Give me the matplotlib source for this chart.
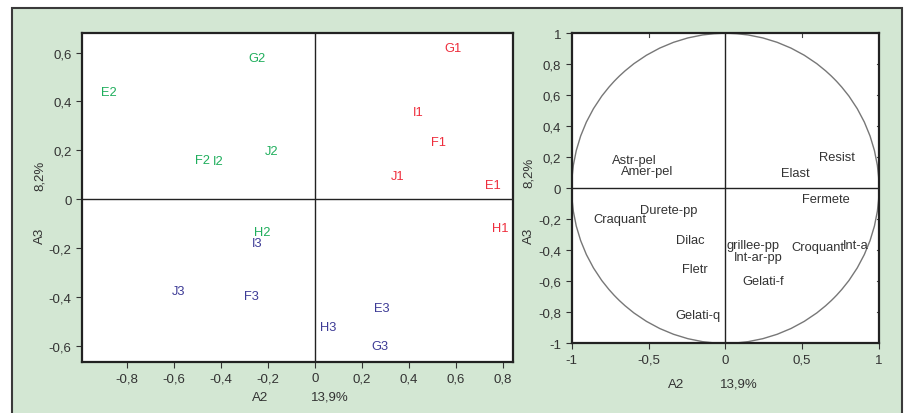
import numpy as np
import matplotlib.pyplot as plt
from matplotlib.patches import Circle, Rectangle
from matplotlib.ticker import FuncFormatter

plt.rcParams['font.family'] = ['Liberation Sans', 'DejaVu Sans']

# individuals (left map)
ind_names = ['G1', 'I1', 'F1', 'J1', 'E1', 'H1',
             'G2', 'E2', 'J2', 'F2', 'I2', 'H2',
             'I3', 'J3', 'F3', 'E3', 'H3', 'G3']
ind_x = [0.590, 0.442, 0.526, 0.352, 0.759, 0.790,
         -0.247, -0.879, -0.185, -0.480, -0.413, -0.223,
         -0.245, -0.581, -0.269, 0.284, 0.057, 0.277]
ind_y = [0.620, 0.356, 0.233, 0.093, 0.059, -0.116,
         0.579, 0.438, 0.196, 0.162, 0.155, -0.135,
         -0.178, -0.377, -0.396, -0.446, -0.521, -0.599]
ind_group = [1, 1, 1, 1, 1, 1,
             2, 2, 2, 2, 2, 2,
             3, 3, 3, 3, 3, 3]

# variables (correlation circle)
var_names = ['Astr-pel', 'Amer-pel', 'Resist', 'Elast', 'Fermete',
             'Durete-pp', 'Craquant', 'Dilac', 'grillee-pp', 'Croquant',
             'Int-a', 'Int-ar-pp', 'Fletr', 'Gelati-f', 'Gelati-q']
var_x = [-0.594, -0.511, 0.725, 0.458, 0.655,
         -0.368, -0.685, -0.228, 0.178, 0.605,
         0.848, 0.211, -0.197, 0.247, -0.178]
var_y = [0.181, 0.110, 0.204, 0.097, -0.067,
         -0.138, -0.200, -0.332, -0.368, -0.377,
         -0.366, -0.441, -0.523, -0.596, -0.817]

group_colors = {1: '#ee2d3c', 2: '#1fae5c', 3: '#3d3b96'}
bg = '#d3e7d3'
txt = '#333333'

def comma(v, pos=None):
    s = f'{v:.1f}'.rstrip('0').rstrip('.')
    if s in ('-0', ''):
        s = '0'
    return s.replace('.', ',')

fig = plt.figure(figsize=(9.09, 4.14), dpi=100)
fig.patch.set_facecolor('white')

# green panel behind both plots
back = fig.add_axes([0, 0, 1, 1], zorder=-1)
back.set_xlim(0, 909)
back.set_ylim(414, 0)
back.axis('off')
back.add_patch(Rectangle((12, 9), 902 - 12, 420, facecolor=bg,
                         edgecolor='#3a3a3a', lw=1.5))

def style(ax):
    ax.set_facecolor('white')
    for s in ax.spines.values():
        s.set_linewidth(1.6)
        s.set_color('#222222')
    ax.tick_params(labelsize=9.5, colors=txt, length=4.5, width=0.8, pad=3)
    ax.xaxis.set_major_formatter(FuncFormatter(comma))
    ax.yaxis.set_major_formatter(FuncFormatter(comma))
    ax.axhline(0, color='#222222', lw=1)
    ax.axvline(0, color='#222222', lw=1)

# left: individuals
ax1 = fig.add_axes([82 / 909, 1 - 363 / 414, (513 - 82) / 909, (363 - 34) / 414])
style(ax1)
ax1.set_xlim(-0.993, 0.844)
ax1.set_ylim(-0.666, 0.680)
ax1.set_xticks(np.arange(-0.8, 0.81, 0.2))
ax1.set_yticks(np.arange(-0.6, 0.61, 0.2))
for n, x, y, g in zip(ind_names, ind_x, ind_y, ind_group):
    ax1.text(x, y, n, color=group_colors[g], fontsize=9.3, ha='center', va='center')

# right: correlation circle
ax2 = fig.add_axes([571.7 / 909, 1 - 344.3 / 414, (879 - 571.7) / 909, (344.3 - 34.3) / 414])
style(ax2)
ax2.set_xlim(-1, 1)
ax2.set_ylim(-1, 1)
ax2.set_xticks([-1, -0.5, 0, 0.5, 1])
ax2.set_yticks(np.arange(-1, 1.01, 0.2))
ax2.add_patch(Circle((0, 0), 1, fill=False, edgecolor='#777777', lw=1))
# small inner ticks along top and right edges
for x in [-0.5, 0.5]:
    ax2.plot([x, x], [1, 0.975], color='#444444', lw=0.8)
for y in [0.8, 0.6, 0.4, 0.2, -0.2, -0.4, -0.6, -0.8]:
    ax2.plot([1, 0.985], [y, y], color='#444444', lw=0.8)
for n, x, y in zip(var_names, var_x, var_y):
    ax2.text(x, y, n, color=txt, fontsize=9.3, ha='center', va='center')

# axis titles
for px, py, s in [(260, 398, 'A2'), (330, 398, '13,9%'),
                  (676, 385, 'A2'), (739, 385, '13,9%')]:
    fig.text(px / 909, 1 - py / 414, s, fontsize=9.5, color=txt, ha='center', va='center')
for px, py, s in [(40, 236, 'A3'), (40, 176, '8,2%'),
                  (529, 236, 'A3'), (529, 173, '8,2%')]:
    fig.text(px / 909, 1 - py / 414, s, fontsize=9.5, color=txt, ha='center', va='center',
             rotation=90)

fig.savefig('out.png', dpi=100)
